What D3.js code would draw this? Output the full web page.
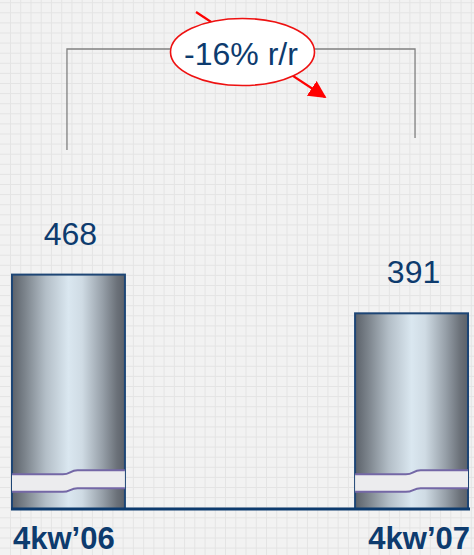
<!DOCTYPE html>
<html>
<head>
<meta charset="utf-8">
<script src="https://cdn.jsdelivr.net/npm/d3@7"></script>
<style>
  html, body { margin: 0; padding: 0; background: #f2f2f2; }
  svg { display: block; }
</style>
</head>
<body>
<svg id="chart" width="474" height="555"></svg>
<script>
// ---- data ----
const categories = ["4kw\u201906", "4kw\u201907"];
const values = [468, 391];
const changeLabel = ["-16% r/r"];
const breakValue = [55];

// ---- setup ----
const W = 474, H = 555;
const svg = d3.select("#chart");
const blue = "#0d3b6e";

// background grid
const bg = svg.append("g");
bg.append("rect").attr("width", W).attr("height", H).attr("fill", "#f2f2f2");
bg.selectAll("line.v").data(d3.range(10.5, W, 10.24)).join("line")
  .attr("x1", d => d).attr("x2", d => d).attr("y1", 0).attr("y2", H)
  .attr("stroke", "#e4e4e4").attr("stroke-width", 1);
bg.selectAll("line.h").data(d3.range(2.7, H, 10.1)).join("line")
  .attr("y1", d => d).attr("y2", d => d).attr("x1", 0).attr("x2", W)
  .attr("stroke", "#e4e4e4").attr("stroke-width", 1);

// scales
const x = d3.scaleBand().domain(categories).range([11, 469]).paddingInner(0.665).paddingOuter(0);
const y = d3.scaleLinear().domain([0, 500]).range([509, 257.5]);

// gradient
const defs = svg.append("defs");
const grad = defs.append("linearGradient").attr("id", "cyl").attr("x1", "0").attr("x2", "1").attr("y1", "0").attr("y2", "0");
[[0, "#5b6169"], [0.12, "#7d858d"], [0.3, "#b3bec7"], [0.5, "#dae7f0"], [0.62, "#cfdbe4"], [0.8, "#97a0a9"], [0.93, "#6b7179"], [1, "#5c6169"]]
  .forEach(([o, c]) => grad.append("stop").attr("offset", o).attr("stop-color", c));

// arrow marker
defs.append("marker").attr("id", "ah").attr("viewBox", "0 0 10 10")
  .attr("refX", 9).attr("refY", 5).attr("markerWidth", 8).attr("markerHeight", 8)
  .attr("markerUnits", "strokeWidth").attr("orient", "auto")
  .append("path").attr("d", "M0,0 L10,5 L0,10 Z").attr("fill", "#ff0000");

const data = categories.map((c, i) => ({ c, v: values[i] }));

// bars
const bars = svg.append("g");
bars.selectAll("rect").data(data).join("rect")
  .attr("x", d => x(d.c) + 1).attr("y", d => y(d.v) + 1)
  .attr("width", x.bandwidth() - 2).attr("height", d => y(0) - y(d.v) - 1)
  .attr("fill", "url(#cyl)").attr("stroke", "#1d4575").attr("stroke-width", 2);

// break symbols
const yb = y(breakValue[0]);
function brkGeom(d) {
  const x0 = x(d.c) + 1, x1 = x(d.c) + x.bandwidth() - 1, w = x1 - x0;
  return { x0, x1, m0: x0 + w * 0.45, m1: x0 + w * 0.58, t0: yb - 7, t1: yb - 11, b0: yb + 10.5, b1: yb + 7 };
}
bars.selectAll("path.brk").data(data).join("path").attr("class", "brk")
  .attr("d", d => {
    const g = brkGeom(d), mm = (g.m0 + g.m1) / 2;
    return `M${g.x0},${g.t0} L${g.m0},${g.t0} C${mm},${g.t0} ${mm},${g.t1} ${g.m1},${g.t1} L${g.x1},${g.t1}` +
      ` L${g.x1},${g.b1} L${g.m1},${g.b1} C${mm},${g.b1} ${mm},${g.b0} ${g.m0},${g.b0} L${g.x0},${g.b0} Z`;
  })
  .attr("fill", "#ececee").attr("stroke", "none");
bars.selectAll("path.brkE").data(data.flatMap(d => [{ d, top: true }, { d, top: false }])).join("path")
  .attr("d", o => {
    const g = brkGeom(o.d), mm = (g.m0 + g.m1) / 2;
    const a = o.top ? g.t0 : g.b0, b = o.top ? g.t1 : g.b1;
    return `M${g.x0},${a} L${g.m0},${a} C${mm},${a} ${mm},${b} ${g.m1},${b} L${g.x1},${b}`;
  })
  .attr("fill", "none").attr("stroke", "#7467a6").attr("stroke-width", 2);

// baseline
svg.append("line").attr("x1", 11).attr("x2", 470).attr("y1", y(0)).attr("y2", y(0))
  .attr("stroke", blue).attr("stroke-width", 3);

// value labels
svg.append("g").selectAll("text").data(data).join("text")
  .attr("x", d => x(d.c) + x.bandwidth() / 2 + 2)
  .attr("y", d => y(d.v) - 29)
  .attr("text-anchor", "middle")
  .attr("font-family", "Liberation Sans, Arial, sans-serif")
  .attr("font-size", 32).attr("fill", blue)
  .text(d => d.v);

// category labels
svg.append("g").selectAll("text").data(data).join("text")
  .attr("x", (d, i) => i === 0 ? x(d.c) + 2 : x(d.c) + x.bandwidth() + 1)
  .attr("y", 548.5)
  .attr("text-anchor", (d, i) => i === 0 ? "start" : "end")
  .attr("font-family", "Liberation Sans, Arial, sans-serif")
  .attr("font-weight", "bold")
  .attr("font-size", 31).attr("fill", blue)
  .text(d => d.c);

// bracket
const bx0 = x(categories[0]) + x.bandwidth() / 2 - 1.5;
const bx1 = x(categories[1]) + x.bandwidth() / 2 + 3.5;
svg.append("path")
  .attr("d", `M${bx0},150 L${bx0},49 L${bx1},49 L${bx1},138`)
  .attr("fill", "none").attr("stroke", "#808080").attr("stroke-width", 1.3);

// red arrow
svg.append("line").attr("x1", 196).attr("y1", 12).attr("x2", 325).attr("y2", 97)
  .attr("stroke", "#ff0000").attr("stroke-width", 2.2).attr("marker-end", "url(#ah)");

// ellipse
svg.append("ellipse").attr("cx", 242.5).attr("cy", 52).attr("rx", 72).attr("ry", 33.5)
  .attr("fill", "#ffffff").attr("stroke", "#ee1111").attr("stroke-width", 1.6);
svg.append("text").attr("x", 241).attr("y", 64.5).attr("text-anchor", "middle")
  .attr("font-family", "Liberation Sans, Arial, sans-serif")
  .attr("font-size", 32).attr("fill", blue)
  .text(changeLabel[0]);
</script>
</body>
</html>
